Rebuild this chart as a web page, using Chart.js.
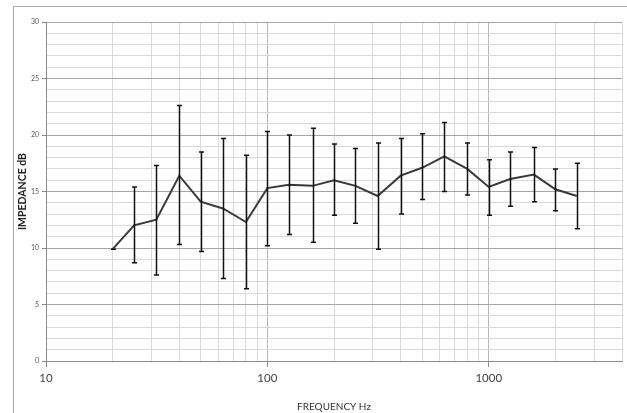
<!DOCTYPE html>
<html>
<head>
<meta charset="utf-8">
<script src="https://cdn.jsdelivr.net/npm/chart.js@4"></script>
<style>
  html, body { margin: 0; padding: 0; background: #fff; }
  canvas { display: block; }
</style>
</head>
<body>
<canvas id="impedanceChart" width="627" height="413"></canvas>
<script>
// third-octave band centres
var frequencies = [20, 25, 31.5, 40, 50, 63, 80, 100, 125, 160, 200, 250, 315, 400, 500, 630, 800, 1000, 1250, 1600, 2000, 2500];
// mean impedance per band
var meanDb = [9.9, 12.0, 12.5, 16.4, 14.1, 13.5, 12.3, 15.3, 15.6, 15.5, 16.0, 15.5, 14.6, 16.4, 17.1, 18.1, 17.0, 15.4, 16.1, 16.5, 15.2, 14.6];
// error bar ends
var upperDb = [9.9, 15.4, 17.3, 22.6, 18.5, 19.7, 18.2, 20.3, 20.0, 20.6, 19.2, 18.8, 19.3, 19.7, 20.1, 21.1, 19.3, 17.8, 18.5, 18.9, 17.0, 17.5];
var lowerDb = [9.9, 8.7, 7.6, 10.3, 9.7, 7.3, 6.4, 10.2, 11.2, 10.5, 12.9, 12.2, 9.9, 13.0, 14.3, 15.0, 14.7, 12.9, 13.7, 14.1, 13.3, 11.7];

// log grid lines 10..4000 and the decades that get a label
var xGridValues = [10, 20, 30, 40, 50, 60, 70, 80, 90, 100, 200, 300, 400, 500, 600, 700, 800, 900, 1000, 2000, 3000, 4000];
var xLabels = [10, 100, 1000];

var points = frequencies.map(function (f, i) {
  return { x: f, y: meanDb[i] };
});

// outer frame line along the top and left
var framePlugin = {
  id: "frame",
  beforeDraw: function (chart) {
    var c = chart.ctx;
    c.save();
    c.strokeStyle = "#a6a6a6";
    c.lineWidth = 1;
    c.beginPath();
    c.moveTo(13.5, 413);
    c.lineTo(13.5, 6.5);
    c.lineTo(627, 6.5);
    c.stroke();
    c.restore();
  }
};

// vertical error bars with small caps
var errorBarPlugin = {
  id: "errorBars",
  afterDatasetsDraw: function (chart) {
    var c = chart.ctx;
    var xs = chart.scales.x;
    var ys = chart.scales.y;
    c.save();
    c.strokeStyle = "#111";
    c.lineWidth = 1.5;
    frequencies.forEach(function (f, i) {
      var px = Math.round(xs.getPixelForValue(f)) + 0.5;
      var top = ys.getPixelForValue(upperDb[i]);
      var bot = ys.getPixelForValue(lowerDb[i]);
      c.beginPath();
      c.moveTo(px, top);
      c.lineTo(px, bot);
      c.moveTo(px - 2.5, top);
      c.lineTo(px + 2.5, top);
      c.moveTo(px - 2.5, bot);
      c.lineTo(px + 2.5, bot);
      c.stroke();
    });
    c.restore();
  }
};

var ctx = document.getElementById("impedanceChart").getContext("2d");
var impedanceChart = new Chart(ctx, {
  type: "line",
  data: {
    datasets: [
      {
        label: "Impedance",
        data: points,
        borderColor: "#3a3a3a",
        borderWidth: 2,
        pointRadius: 0,
        fill: false,
        tension: 0
      }
    ]
  },
  plugins: [framePlugin, errorBarPlugin],
  options: {
    responsive: false,
    animation: false,
    layout: { padding: { left: 13, top: 22, right: 5, bottom: 0 } },
    plugins: {
      legend: { display: false },
      tooltip: { enabled: false }
    },
    scales: {
      x: {
        type: "logarithmic",
        min: 10,
        max: 4000,
        afterBuildTicks: function (scale) {
          scale.ticks = xGridValues.map(function (v) {
            return { value: v };
          });
        },
        afterFit: function (scale) {
          scale.height = 52;
        },
        ticks: {
          autoSkip: false,
          maxRotation: 0,
          padding: 4,
          color: "#404040",
          font: { family: "Lato", size: 11.5 },
          callback: function (value) {
            return xLabels.indexOf(value) >= 0 ? String(value) : "";
          }
        },
        grid: {
          color: function (c) {
            return xLabels.indexOf(c.tick && c.tick.value) >= 0 ? "#b8b8b8" : "#dadada";
          },
          lineWidth: 1,
          tickLength: 6,
          tickColor: function (c) {
            return xLabels.indexOf(c.tick && c.tick.value) >= 0 ? "#8c8c8c" : "rgba(0,0,0,0)";
          }
        },
        border: { color: "#8c8c8c" },
        title: {
          display: true,
          text: "FREQUENCY Hz",
          color: "#333",
          font: { family: "Lato", size: 10 },
          padding: { top: 3, bottom: 0 }
        }
      },
      y: {
        type: "linear",
        min: 0,
        max: 30,
        afterFit: function (scale) {
          scale.width = 33;
        },
        ticks: {
          stepSize: 1,
          autoSkip: false,
          padding: 3,
          color: "#595959",
          font: { family: "Lato", size: 7 },
          callback: function (value) {
            return value % 5 === 0 ? String(value) : "";
          }
        },
        grid: {
          color: function (c) {
            return c.tick && c.tick.value % 5 === 0 ? "#a6a6a6" : "#d9d9d9";
          },
          lineWidth: 1,
          tickLength: 4,
          tickColor: function (c) {
            return c.tick && c.tick.value % 5 === 0 ? "#8c8c8c" : "rgba(0,0,0,0)";
          }
        },
        border: { color: "#8c8c8c" },
        title: {
          display: true,
          text: "IMPEDANCE dB",
          color: "#222",
          font: { family: "Lato", size: 10.5, weight: "bold" },
          padding: { top: 3, bottom: 0 }
        }
      }
    }
  }
});
</script>
</body>
</html>
